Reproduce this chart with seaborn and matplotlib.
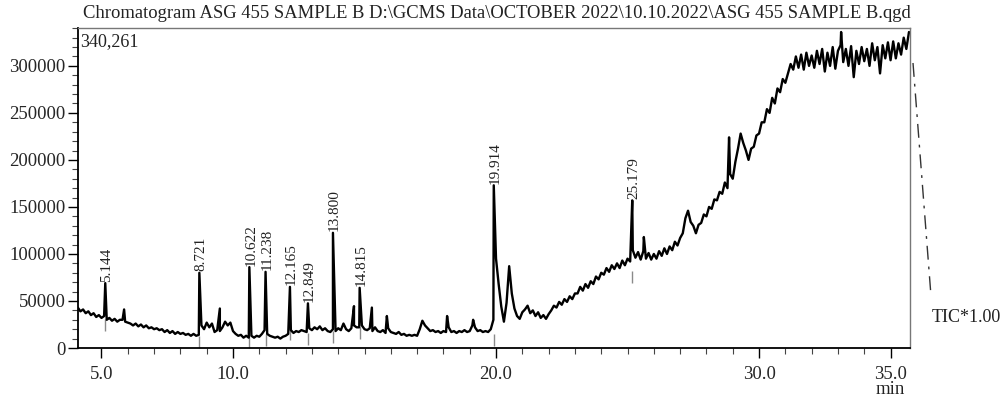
import numpy as np
import pandas as pd
import matplotlib
matplotlib.use("Agg")
import matplotlib.pyplot as plt
import matplotlib.ticker as mticker
import seaborn as sns


TITLE = r"Chromatogram ASG 455 SAMPLE B D:\GCMS Data\OCTOBER 2022\10.10.2022\ASG 455 SAMPLE B.qgd"
Y_MAX = 340261

# scan grid: one sample every 0.1 min, 4.1 .. 35.7 min
SCAN_START = 4.1
SCAN_STEP = 0.1

# TIC intensity in thousands of counts, one row per minute (x.1 .. x+1.0)
tic_k = [
    43, 39, 41, 37, 39, 35, 37, 33, 35, 32,                 # 4.1 - 5.0
    34, 30, 32, 29, 31, 28, 30, 30, 28, 27,                 # 5.1 - 6.0
    26, 24, 26, 23, 25, 22, 24, 21, 22, 20,                 # 6.1 - 7.0
    21, 19, 20, 17, 19, 16, 18, 15, 17, 15,                 # 7.1 - 8.0
    16, 14, 15, 13, 15, 13, 14, 24, 20, 27,                 # 8.1 - 9.0
    22, 26, 17, 19, 18, 22, 28, 24, 27, 18,                 # 9.1 - 10.0
    15, 13, 14, 11, 13, 11, 13, 11, 13, 12,                 # 10.1 - 11.0
    15, 19, 15, 13, 12, 11, 12, 10, 12, 13,                 # 11.1 - 12.0
    15, 19, 16, 18, 17, 19, 18, 17, 21, 19,                 # 12.1 - 13.0
    22, 20, 23, 19, 21, 18, 17, 20, 18, 21,                 # 13.1 - 14.0
    19, 26, 20, 18, 21, 24, 22, 22, 24, 20,                 # 14.1 - 15.0
    19, 21, 18, 22, 18, 17, 19, 16, 21, 17,                 # 15.1 - 16.0
    16, 15, 17, 14, 15, 13, 14, 13, 14, 13,                 # 16.1 - 17.0
    20, 29, 24, 21, 18, 19, 17, 18, 16, 18,                 # 17.1 - 18.0
    17, 22, 17, 18, 16, 18, 17, 19, 17, 18,                 # 18.1 - 19.0
    24, 22, 18, 19, 17, 18, 17, 20, 30, 95,                 # 19.1 - 20.0
    68, 44, 28, 48, 87, 58, 42, 34, 31, 38,                 # 20.1 - 21.0
    41, 45, 37, 40, 34, 38, 32, 35, 31, 36,                 # 21.1 - 22.0
    40, 45, 43, 49, 46, 52, 49, 55, 52, 58,                 # 22.1 - 23.0
    58, 65, 61, 68, 64, 71, 68, 76, 73, 80,                 # 23.1 - 24.0
    78, 85, 81, 88, 84, 90, 85, 93, 88, 95,                 # 24.1 - 25.0
    92, 104, 96, 102, 94, 103, 95, 101, 94, 100,            # 25.1 - 26.0
    95, 103, 98, 106, 100, 108, 104, 113, 109, 117,         # 26.1 - 27.0
    122, 138, 146, 134, 130, 122, 131, 133, 142, 140,       # 27.1 - 28.0
    150, 148, 158, 157, 166, 164, 176, 170, 185, 180,       # 28.1 - 29.0
    198, 212, 228, 218, 210, 200, 212, 214, 226, 228,       # 29.1 - 30.0
    240, 240, 254, 250, 266, 260, 276, 272, 286, 282,       # 30.1 - 31.0
    292, 302, 296, 310, 298, 312, 296, 314, 300, 311,       # 31.1 - 32.0
    298, 316, 302, 318, 294, 314, 300, 320, 297, 316,       # 32.1 - 33.0
    322, 304, 318, 300, 321, 288, 316, 302, 320, 305,       # 33.1 - 34.0
    318, 300, 324, 306, 320, 292, 322, 308, 325, 306,       # 34.1 - 35.0
    326, 308, 324, 312, 330, 318, 336,                      # 35.1 - 35.7
]

# sharp peaks that fall between scans (apex time, apex height in thousands)
peak_rt = [5.144, 5.86, 8.721, 9.50, 10.622, 11.238, 12.165, 12.849, 13.800,
           14.60, 14.815, 15.28, 15.85, 18.14, 19.13, 19.914, 25.179, 25.62,
           28.86, 33.12]
peak_k = [69, 41, 80, 42, 86, 81, 65, 47.5, 122.5,
          44.5, 64, 43, 34, 34, 30, 173, 157, 118,
          224, 336]

# peaks annotated with retention time, and where their integration mark sits
labelled_rt = ["5.144", "8.721", "10.622", "11.238", "12.165", "12.849",
               "13.800", "14.815", "19.914", "25.179"]
mark_k = [24, 6, 6, 9, 15, 10, 12, 16, 8, 76]

x_major = [5.0, 10.0, 20.0, 30.0, 35.0]
y_major = [0, 50000, 100000, 150000, 200000, 250000, 300000]


scan_t = np.round(SCAN_START + SCAN_STEP * np.arange(len(tic_k)), 2)
df = pd.concat([
    pd.DataFrame({"t": scan_t, "tic": np.array(tic_k) * 1000.0}),
    pd.DataFrame({"t": peak_rt, "tic": np.array(peak_k) * 1000.0}),
]).sort_values("t").reset_index(drop=True)

marks = pd.DataFrame({"t": [float(s) for s in labelled_rt],
                      "tic": np.array(mark_k) * 1000.0})

sns.set_theme(style="ticks")
plt.rcParams["font.family"] = ["Liberation Serif", "DejaVu Serif"]

fig = plt.figure(figsize=(10.06, 3.99), dpi=100)
ax = fig.add_axes([0.0775, 0.1278, 0.8271, 0.8020])

sns.scatterplot(data=marks, x="t", y="tic", ax=ax, marker="|", s=70,
                color="#8a8a8a", linewidth=1.0, zorder=1)
sns.lineplot(data=df, x="t", y="tic", ax=ax, color="black", linewidth=1.7,
             estimator=None, sort=False, zorder=2)

ax.set_xlim(4.106, 35.74)
ax.set_ylim(0, Y_MAX)
ax.set_xlabel("")
ax.set_ylabel("")

ax.xaxis.set_major_locator(mticker.FixedLocator(x_major))
ax.xaxis.set_major_formatter(mticker.FormatStrFormatter("%.1f"))
ax.xaxis.set_minor_locator(mticker.MultipleLocator(1))
ax.yaxis.set_major_locator(mticker.FixedLocator(y_major))
ax.yaxis.set_major_formatter(mticker.FormatStrFormatter("%d"))
ax.yaxis.set_minor_locator(mticker.MultipleLocator(10000))

ax.tick_params(which="major", direction="out", length=7, width=1.0,
               color="black", labelsize=13.5, pad=2)
ax.tick_params(which="minor", direction="out", length=4, width=0.8,
               color="#444444")
ax.tick_params(axis="x", which="major", pad=6)

for side in ["left", "bottom"]:
    ax.spines[side].set_color("black")
    ax.spines[side].set_linewidth(1.3)
for side in ["top", "right"]:
    ax.spines[side].set_color("#777777")
    ax.spines[side].set_linewidth(1.0)

# retention time labels above each apex
for lab in labelled_rt:
    rt = float(lab)
    h = peak_k[peak_rt.index(rt)] * 1000.0
    ax.annotate(lab, xy=(rt, h), xytext=(1, 1), textcoords="offset points",
                rotation=90, ha="center", va="bottom", fontsize=11,
                color="#222222")

ax.text(0.003, 0.985, "340,261", transform=ax.transAxes, ha="left", va="top",
        fontsize=13, color="#222222")

fig.text(0.0825, 1 - 13 / 399, TITLE, ha="left", va="center", fontsize=13.4,
         color="#222222")
fig.text(890 / 1006, 1 - 390 / 399, "min", ha="center", va="center",
         fontsize=13.5, color="#222222")
fig.text(932 / 1006, 1 - 317 / 399, "TIC*1.00", ha="left", va="center",
         fontsize=13, color="#222222")

# dash-dot scale trace leaving the plot on the right
ax.plot([913 / 1006, 931 / 1006], [1 - 63 / 399, 1 - 296 / 399],
        transform=fig.transFigure, clip_on=False, color="#333333",
        linewidth=1.0, linestyle=(0, (10, 5, 2, 5)))

fig.savefig("out.png", dpi=100)
